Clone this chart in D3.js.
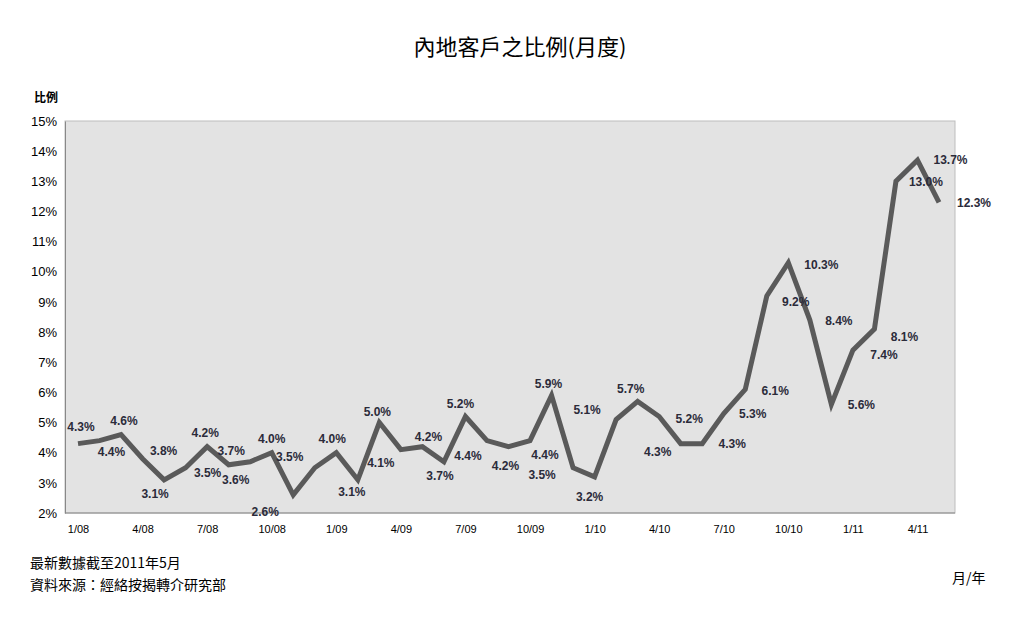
<!DOCTYPE html>
<html><head><meta charset="utf-8">
<script src="https://cdn.jsdelivr.net/npm/d3@7"></script>
<style>body{margin:0;background:#fff}</style></head>
<body><svg id="c" width="1021" height="624"></svg>
<script>
const months = ["1/08","2/08","3/08","4/08","5/08","6/08","7/08","8/08","9/08","10/08","11/08","12/08",
"1/09","2/09","3/09","4/09","5/09","6/09","7/09","8/09","9/09","10/09","11/09","12/09",
"1/10","2/10","3/10","4/10","5/10","6/10","7/10","8/10","9/10","10/10","11/10","12/10",
"1/11","2/11","3/11","4/11","5/11"];
const values = [4.3,4.4,4.6,3.8,3.1,3.5,4.2,3.6,3.7,4.0,2.6,3.5,
4.0,3.1,5.0,4.1,4.2,3.7,5.2,4.4,4.2,4.4,5.9,3.5,
3.2,5.1,5.7,5.2,4.3,4.3,5.3,6.1,9.2,10.3,8.4,5.6,
7.4,8.1,13.0,13.7,12.3];
const xTickLabels = ["1/08","4/08","7/08","10/08","1/09","4/09","7/09","10/09","1/10","4/10","7/10","10/10","1/11","4/11"];
const yTicks = [2,3,4,5,6,7,8,9,10,11,12,13,14,15];
// label offsets (dx, dy) relative to each point
const labelOffsets = [[3,-17],[12,11],[3,-14],[21,-8],[-9,14],[22,5],[-2,-14],[7,15],[-19,-11],[0,-14],[-28,17],[-25,-11],
[-4,-14],[-6,12],[-2,-11],[-20,13],[6,-10],[-4,14],[-5,-13],[-19,15],[-3,19],[15,14],[-3,-11],[-31,7],
[-5,20],[-29,-10],[-7,-12],[30,2],[-23,8],[30,0],[29,1],[30,2],[29,6],[33,2],[29,1],[30,1],
[31,5],[30,8],[30,1],[33,0],[35,1]];

const svg = d3.select("#c");
const L=65,R=955,T=121,B=513;
svg.append("rect").attr("x",L).attr("y",T).attr("width",R-L).attr("height",B-T).attr("fill","#e3e3e3").attr("stroke","#bdbdbd");
const x = d3.scalePoint().domain(months).range([78,939]);
const y = d3.scaleLinear().domain([2,15]).range([B,T]);

const yAxis = svg.append("g").attr("transform",`translate(${L},0)`)
  .call(d3.axisLeft(y).tickValues(yTicks).tickFormat(d=>d+"%").tickSize(0).tickPadding(8));
yAxis.select(".domain").attr("stroke","#888");
yAxis.selectAll("text").attr("font-family","Liberation Sans, Arial").attr("font-size",13).attr("fill","#000");

const xAxis = svg.append("g").attr("transform",`translate(0,${B})`)
  .call(d3.axisBottom(x).tickValues(xTickLabels).tickSize(0).tickPadding(12));
xAxis.select(".domain").attr("stroke","#888").attr("d",`M${L},0H${R}`);
xAxis.selectAll("text").attr("font-family","Liberation Sans, Arial").attr("font-size",11).attr("fill","#000");

svg.append("path").datum(values)
  .attr("d",d3.line().x((d,i)=>x(months[i])).y(d=>y(d)))
  .attr("fill","none").attr("stroke","#5a5a5a").attr("stroke-width",5).attr("stroke-linejoin","miter");

svg.append("g").selectAll("text").data(values).join("text")
  .attr("x",(d,i)=>x(months[i])+labelOffsets[i][0])
  .attr("y",(d,i)=>y(d)+labelOffsets[i][1]+4)
  .attr("text-anchor","middle").attr("font-family","Liberation Sans, Arial")
  .attr("font-weight","bold").attr("font-size",12).attr("fill","#2b2b3a")
  .text(d=>d.toFixed(1)+"%");

svg.append("text").attr("x",520).attr("y",55).attr("text-anchor","middle")
  .attr("font-family","Noto Sans CJK TC").attr("font-size",22).text("內地客戶之比例(月度)");
svg.append("text").attr("x",34).attr("y",102).attr("font-family","Noto Sans CJK TC").attr("font-size",12).attr("font-weight","bold").text("比例");
svg.append("text").attr("x",30).attr("y",568).attr("font-family","Noto Sans CJK TC").attr("font-size",14).text("最新數據截至2011年5月");
svg.append("text").attr("x",30).attr("y",590).attr("font-family","Noto Sans CJK TC").attr("font-size",14).text("資料來源：經絡按揭轉介研究部");
svg.append("text").attr("x",952).attr("y",583).attr("font-family","Noto Sans CJK TC").attr("font-size",14).text("月/年");
</script></body></html>
